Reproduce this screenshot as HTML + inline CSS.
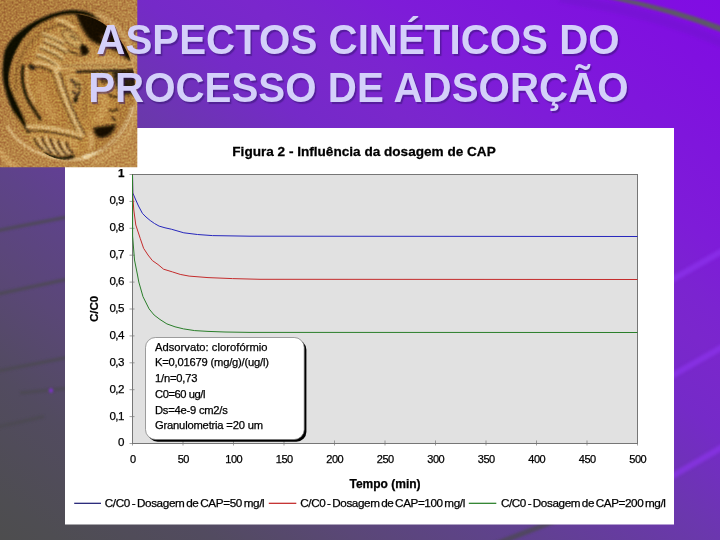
<!DOCTYPE html>
<html lang="pt">
<head>
<meta charset="utf-8">
<title>ASPECTOS CINÉTICOS DO PROCESSO DE ADSORÇÃO</title>
<style>
html,body{margin:0;padding:0;}
body{width:720px;height:540px;overflow:hidden;position:relative;font-family:"Liberation Sans",sans-serif;background:#6a38b0;}
#bg{position:absolute;left:0;top:0;width:720px;height:540px;
background:linear-gradient(to top right,
 rgb(77,77,78) 0%, rgb(78,77,82) 4%, rgb(82,75,96) 15%, rgb(90,71,119) 25%, rgb(94,67,137) 34%,
 rgb(107,55,174) 50%, rgb(117,42,200) 60%, rgb(122,39,204) 67%, rgb(123,36,208) 71%,
 rgb(126,28,216) 77%, rgb(128,16,224) 93%, rgb(129,12,228) 100%);}
#streaks,#chart,#coin{position:absolute;left:0;top:0;}
#title{position:absolute;left:0.8px;top:16.1px;width:714px;text-align:center;font-weight:bold;font-size:41.6px;line-height:48px;transform:scaleX(0.969);transform-origin:357px 0;
 color:#d4d0fa;text-shadow:1.5px 1.5px 1px rgba(50,20,110,.5);white-space:nowrap;margin:0;}
#chart text{font-family:"Liberation Sans",sans-serif;fill:#000;stroke:#000;stroke-width:0.25px;}
</style>
</head>
<body>
<div id="bg"></div>
<svg id="streaks" width="720" height="540" viewBox="0 0 720 540">
<defs>
 <filter id="sb1" x="-20%" y="-50%" width="140%" height="200%"><feGaussianBlur stdDeviation="0.9"/></filter>
 <filter id="sb2" x="-20%" y="-50%" width="140%" height="200%"><feGaussianBlur stdDeviation="1.6"/></filter>
</defs>
<path d="M608,-3.500 Q670,7 724,28 L724,32 Q670,10.500 608,-2.500 Z" fill="#5d5a66" stroke="#5d5a66" stroke-width="2" filter="url(#sb1)"/>
<path d="M560,-2 Q660,14 724,44" fill="none" stroke="#6a12c4" stroke-width="9" opacity="0.35" filter="url(#sb2)"/>
<g stroke="#9036f2" stroke-width="6" opacity="0.6" filter="url(#sb2)">
 <path d="M640,298 L724,250"/>
 <path d="M640,394 L724,346"/>
 <path d="M640,495 L724,446"/>
</g>
<g stroke="#4b4951" stroke-width="3.500" opacity="0.75" filter="url(#sb1)">
 <path d="M-2,230.500 L80,214.500"/>
 <path d="M-2,294 L80,276.500"/>
 <path d="M-2,371 L80,355"/>
 <path d="M20,393 L80,387"/>
 <path d="M-2,427 L44,416.500"/>
 <path d="M490,546 L560,519" stroke-width="5"/>
</g>
<circle cx="51" cy="390.500" r="2.200" fill="#7a30c8" filter="url(#sb1)"/>

</svg>
<svg id="chart" width="720" height="540" viewBox="0 0 720 540">
<rect x="65" y="128" width="609" height="396.5" fill="#ffffff"/>
<rect x="132.5" y="174.5" width="505.0" height="269.0" fill="#e1e1e1" stroke="#767676" stroke-width="1"/>
<line x1="129.5" y1="443.5" x2="134.5" y2="443.5" stroke="#777" stroke-width="0.7"/>
<line x1="129.5" y1="416.6" x2="134.5" y2="416.6" stroke="#777" stroke-width="0.7"/>
<line x1="129.5" y1="389.7" x2="134.5" y2="389.7" stroke="#777" stroke-width="0.7"/>
<line x1="129.5" y1="362.8" x2="134.5" y2="362.8" stroke="#777" stroke-width="0.7"/>
<line x1="129.5" y1="335.9" x2="134.5" y2="335.9" stroke="#777" stroke-width="0.7"/>
<line x1="129.5" y1="309.0" x2="134.5" y2="309.0" stroke="#777" stroke-width="0.7"/>
<line x1="129.5" y1="282.1" x2="134.5" y2="282.1" stroke="#777" stroke-width="0.7"/>
<line x1="129.5" y1="255.2" x2="134.5" y2="255.2" stroke="#777" stroke-width="0.7"/>
<line x1="129.5" y1="228.3" x2="134.5" y2="228.3" stroke="#777" stroke-width="0.7"/>
<line x1="129.5" y1="201.4" x2="134.5" y2="201.4" stroke="#777" stroke-width="0.7"/>
<line x1="129.5" y1="174.5" x2="134.5" y2="174.5" stroke="#777" stroke-width="0.7"/>
<line x1="132.5" y1="440.5" x2="132.5" y2="445.5" stroke="#777" stroke-width="0.7"/>
<line x1="183.0" y1="440.5" x2="183.0" y2="445.5" stroke="#777" stroke-width="0.7"/>
<line x1="233.5" y1="440.5" x2="233.5" y2="445.5" stroke="#777" stroke-width="0.7"/>
<line x1="284.0" y1="440.5" x2="284.0" y2="445.5" stroke="#777" stroke-width="0.7"/>
<line x1="334.5" y1="440.5" x2="334.5" y2="445.5" stroke="#777" stroke-width="0.7"/>
<line x1="385.0" y1="440.5" x2="385.0" y2="445.5" stroke="#777" stroke-width="0.7"/>
<line x1="435.5" y1="440.5" x2="435.5" y2="445.5" stroke="#777" stroke-width="0.7"/>
<line x1="486.0" y1="440.5" x2="486.0" y2="445.5" stroke="#777" stroke-width="0.7"/>
<line x1="536.5" y1="440.5" x2="536.5" y2="445.5" stroke="#777" stroke-width="0.7"/>
<line x1="587.0" y1="440.5" x2="587.0" y2="445.5" stroke="#777" stroke-width="0.7"/>
<line x1="637.5" y1="440.5" x2="637.5" y2="445.5" stroke="#777" stroke-width="0.7"/>
<polyline points="132.5,174.5 132.8,193.0 135.8,200.0 138.5,206.0 142.4,213.3 146.0,217.0 150.2,220.5 154.5,223.5 159.1,226.1 165.0,227.8 171.3,229.2 183.8,232.8 197.5,234.5 212.5,235.6 250.0,236.2 637.5,236.5" fill="none" stroke="#2626bc" stroke-width="1" stroke-linejoin="round"/>
<polyline points="132.5,174.5 132.7,195.0 133.8,210.0 135.8,225.0 140.2,238.3 143.6,248.3 148.0,255.0 152.4,260.6 158.0,264.5 163.6,269.2 172.4,271.9 180.2,274.4 189.1,276.1 208.0,277.6 232.5,278.6 260.0,279.3 637.5,279.5" fill="none" stroke="#c42c2c" stroke-width="1" stroke-linejoin="round"/>
<polyline points="132.5,174.5 132.6,236.0 134.5,260.0 137.5,275.0 138.8,282.0 143.0,296.7 149.1,308.9 154.1,315.0 160.0,319.5 166.9,323.9 175.0,326.8 183.6,328.9 194.7,330.6 208.0,331.4 225.0,332.0 250.0,332.4 637.5,332.5" fill="none" stroke="#2a7e2a" stroke-width="1" stroke-linejoin="round"/>
<text transform="translate(364,155.8) scale(1.105,1)" text-anchor="middle" font-size="12.3" font-weight="bold">Figura 2 - Influência da dosagem de CAP</text>
<text x="124" y="446.4" text-anchor="end" font-size="11.6" letter-spacing="-0.5">0</text>
<text x="124" y="419.5" text-anchor="end" font-size="11.6" letter-spacing="-0.5">0,1</text>
<text x="124" y="392.6" text-anchor="end" font-size="11.6" letter-spacing="-0.5">0,2</text>
<text x="124" y="365.7" text-anchor="end" font-size="11.6" letter-spacing="-0.5">0,3</text>
<text x="124" y="338.8" text-anchor="end" font-size="11.6" letter-spacing="-0.5">0,4</text>
<text x="124" y="311.9" text-anchor="end" font-size="11.6" letter-spacing="-0.5">0,5</text>
<text x="124" y="285.0" text-anchor="end" font-size="11.6" letter-spacing="-0.5">0,6</text>
<text x="124" y="258.1" text-anchor="end" font-size="11.6" letter-spacing="-0.5">0,7</text>
<text x="124" y="231.2" text-anchor="end" font-size="11.6" letter-spacing="-0.5">0,8</text>
<text x="124" y="204.3" text-anchor="end" font-size="11.6" letter-spacing="-0.5">0,9</text>
<text x="124" y="177.4" text-anchor="end" font-size="11.6" letter-spacing="-0.5" font-weight="bold">1</text>
<text x="132.8" y="463" text-anchor="middle" font-size="11" letter-spacing="-0.5">0</text>
<text x="183.3" y="463" text-anchor="middle" font-size="11" letter-spacing="-0.5">50</text>
<text x="233.8" y="463" text-anchor="middle" font-size="11" letter-spacing="-0.5">100</text>
<text x="284.3" y="463" text-anchor="middle" font-size="11" letter-spacing="-0.5">150</text>
<text x="334.8" y="463" text-anchor="middle" font-size="11" letter-spacing="-0.5">200</text>
<text x="385.3" y="463" text-anchor="middle" font-size="11" letter-spacing="-0.5">250</text>
<text x="435.8" y="463" text-anchor="middle" font-size="11" letter-spacing="-0.5">300</text>
<text x="486.3" y="463" text-anchor="middle" font-size="11" letter-spacing="-0.5">350</text>
<text x="536.8" y="463" text-anchor="middle" font-size="11" letter-spacing="-0.5">400</text>
<text x="587.3" y="463" text-anchor="middle" font-size="11" letter-spacing="-0.5">450</text>
<text x="637.8" y="463" text-anchor="middle" font-size="11" letter-spacing="-0.5">500</text>
<text x="385" y="488" text-anchor="middle" font-size="12" font-weight="bold">Tempo (min)</text>
<text transform="translate(98,309) rotate(-90)" text-anchor="middle" font-size="11.5" font-weight="bold">C/C0</text>
<rect x="147.7" y="339.7" width="158.7" height="102" rx="10" ry="10" fill="#000"/>
<rect x="145.5" y="337.5" width="158.7" height="102" rx="10" ry="10" fill="#fff" stroke="#777" stroke-width="0.7"/>
<text x="155" y="350.6" font-size="11.2" textLength="112.5" lengthAdjust="spacing">Adsorvato: clorofórmio</text>
<text x="155" y="366.4" font-size="11.2" textLength="114" lengthAdjust="spacing">K=0,01679 (mg/g)/(ug/l)</text>
<text x="155" y="382.1" font-size="11.2" textLength="42.5" lengthAdjust="spacing">1/n=0,73</text>
<text x="155" y="397.9" font-size="11.2" textLength="50.5" lengthAdjust="spacing">C0=60 ug/l</text>
<text x="155" y="413.6" font-size="11.2" textLength="72.8" lengthAdjust="spacing">Ds=4e-9 cm2/s</text>
<text x="155" y="429.4" font-size="11.2" textLength="108" lengthAdjust="spacing">Granulometria =20 um</text>
<line x1="74.2" y1="503.3" x2="101" y2="503.3" stroke="#16166e" stroke-width="1.2"/>
<text x="104.7" y="507" font-size="11.7" word-spacing="-1.2" textLength="160" lengthAdjust="spacing">C/C0 - Dosagem de CAP=50 mg/l</text>
<line x1="268.8" y1="503.3" x2="296.3" y2="503.3" stroke="#c02020" stroke-width="1.2"/>
<text x="300.3" y="507" font-size="11.7" word-spacing="-1.2" textLength="165" lengthAdjust="spacing">C/C0 - Dosagem de CAP=100 mg/l</text>
<line x1="468.8" y1="503.3" x2="496.3" y2="503.3" stroke="#207a20" stroke-width="1.2"/>
<text x="500.9" y="507" font-size="11.7" word-spacing="-1.2" textLength="165" lengthAdjust="spacing">C/C0 - Dosagem de CAP=200 mg/l</text>
</svg>
<svg id="coin" width="138" height="168" viewBox="0 0 138 168">
<defs>
 <filter id="grain" x="0" y="0" width="100%" height="100%" color-interpolation-filters="sRGB">
  <feTurbulence type="fractalNoise" baseFrequency="0.5" numOctaves="3" seed="11" result="n"/>
  <feColorMatrix in="n" type="matrix" values="1.1 0 0 0 -0.05  1.1 0 0 0 -0.05  1.1 0 0 0 -0.05  0 0 0 0 1"/>
 </filter>
 <filter id="b1" filterUnits="userSpaceOnUse" x="-10" y="-10" width="160" height="190"><feGaussianBlur stdDeviation="0.85"/></filter>
 <filter id="b2" filterUnits="userSpaceOnUse" x="-10" y="-10" width="160" height="190"><feGaussianBlur stdDeviation="1.4"/></filter>
 <filter id="b3" filterUnits="userSpaceOnUse" x="-10" y="-10" width="160" height="190"><feGaussianBlur stdDeviation="2.5"/></filter>
 <linearGradient id="bgG" x1="0" y1="0" x2="1" y2="1">
  <stop offset="0" stop-color="#ab773a"/><stop offset="0.5" stop-color="#b68446"/><stop offset="1" stop-color="#bd8c4c"/>
 </linearGradient>
 <linearGradient id="rimG" gradientUnits="userSpaceOnUse" x1="0" y1="60" x2="132" y2="126">
  <stop offset="0" stop-color="#0e0904"/><stop offset="0.36" stop-color="#160e06"/><stop offset="0.46" stop-color="#8a6030"/>
  <stop offset="0.58" stop-color="#c89c5c"/><stop offset="0.8" stop-color="#ecd094"/><stop offset="1" stop-color="#f0dca8"/>
 </linearGradient>
 <linearGradient id="inG" gradientUnits="userSpaceOnUse" x1="0" y1="60" x2="132" y2="126">
  <stop offset="0" stop-color="#0e0904"/><stop offset="0.2" stop-color="#1c1208"/><stop offset="0.34" stop-color="#a87c44"/><stop offset="1" stop-color="#c89c5c"/>
 </linearGradient>
 <linearGradient id="fieldG" x1="0" y1="0" x2="1" y2="1">
  <stop offset="0" stop-color="#ad7a38"/><stop offset="0.6" stop-color="#b5843f"/><stop offset="1" stop-color="#bd8c46"/>
 </linearGradient>
 <clipPath id="inClip"><ellipse cx="72.5" cy="87.5" rx="62.5" ry="73.5"/></clipPath>
 <clipPath id="coinClip"><rect x="0" y="0" width="137.3" height="167.3"/></clipPath>
</defs>
<g clip-path="url(#coinClip)">
 <rect x="0" y="0" width="138" height="168" fill="url(#bgG)"/>
 <!-- outer crescent + rim -->
 <g filter="url(#b1)">
  <ellipse cx="72.500" cy="87.500" rx="63" ry="74" fill="url(#fieldG)"/>
  <path d="M96,13.500 C108,18 120,28 128,42 C131,48 134,55 135.500,62" fill="none" stroke="#d9b474" stroke-width="3.500" opacity="0.6"/>
  <path d="M84,5.500 C100,7 116,15 128,30 C132,36 135,42 137,48" fill="none" stroke="#8a5e2a" stroke-width="1.200" opacity="0.6"/>
  <path d="M102,21.500 C97,17 92,13.500 86,11.500 C80,10.300 75,10 70,10 C60,11 52,13.500 44,17 C36,20 29,24.500 25,27.500 C19,32 15,35.500 12.500,38.300 C9,42.500 6.500,46.500 5,50 C3.500,55 2.800,62 2.600,70 C2.500,78 3.500,84 4.800,88 C5.800,92 7,96.500 8.300,100 C9.500,103.500 11,107 12.500,110 C14.500,114 17,117.500 19,120 C21,123 23,126 25,129 C27,132 29,134.500 31,136.500 L31.500,134.500 C29,130 27,126 25.500,122 C24.500,119 23.500,116 22,113 C20.500,110 19.500,108 18.500,105.500 C16.500,101.500 14.500,97.500 13.200,94 C11.500,90 10,87 9.500,83 C8.800,77 9,71 11,65 C12.500,59 14.500,54 17,49.500 C19,45.500 21,42 23,39 C26,35.500 29.500,32 33,29 C37,26 41,23.500 45.500,21.500 C50,19.500 52,18.500 53.500,18 C59,16 64,14.800 70,14.500 C76,14.500 81,15 86,16 C92,17.500 97,19.500 102,21.500 Z" fill="#100a04"/>
  <path d="M74,22.500 C62,23 50,27 40,34 C30,41.500 22,52 18,64 C15.500,72 15,82 16.500,92" fill="none" stroke="#6e4a22" stroke-width="1.300" opacity="0.8"/>
  <path d="M7.800,125.800 C10,131 13,135.500 17.500,139.400 C24,145.500 31,150 38.900,153 C48,157 58,159.500 68,159.800 C76,160 84,159 91.400,157" fill="none" stroke="#e6c88e" stroke-width="2"/>
  <path d="M84,159 C90,157.800 98,154.500 104,151 C109,147.500 115,142 120.500,136 C124.500,130 128,124 131,117 L133.500,108" fill="none" stroke="#f6e4b4" stroke-width="2.600" transform="translate(-1.2,-1.8)"/>
  <path d="M92,163 C102,160 112,154 120,146 C127,138 132,128 135,118 C137,108 137,96 136,84 C135,74 133,66 130,58" fill="none" stroke="#d6ac68" stroke-width="4" opacity="0.55"/>
  <path d="M-1,150 C4,158 10,164 18,169" fill="none" stroke="#d8ae68" stroke-width="6" opacity="0.6"/>
 </g>
 <!-- HEAD -->
 <g id="head" clip-path="url(#inClip)">
 <!-- dark blob upper right between crest and rim -->
 <path d="M74,8 L140,8 L140,62 L128,60 C124,56 120,53 116,51 C110,48 104,46 98,44 C93,42 90,40 87,36 C83,30 78,22 74,8 Z" fill="#120c05" filter="url(#b2)"/>
 <path d="M100,34 C106,36 112,40 116,48 L108,46 C104,44 100,40 100,34 Z" fill="#5a3818" opacity="0.7" filter="url(#b2)"/>
 <!-- helmet dome -->
 <path d="M62,31 C45,34 28,50 23,70 C22,86 28,104 39,119 L66,131 C70,110 66,88 58,70 L86,62 C80,48 72,38 62,31 Z" fill="#b6823e" filter="url(#b1)"/>
 <!-- dome inner soft highlight -->
 <path d="M40,84 C42,98 48,110 56,120" fill="none" stroke="#cc9c56" stroke-width="9" opacity="0.55" filter="url(#b3)"/>
 <!-- helmet back shadow (D4) -->
 <path d="M23,66 C21,80 24,94 31,105 C34,110 37,114 40,119" fill="none" stroke="#170f06" stroke-width="2.800" stroke-linecap="round" filter="url(#b1)"/>
 <path d="M27,68 C26,82 29,94 35,104" fill="none" stroke="#dcb878" stroke-width="2" opacity="0.8" filter="url(#b1)"/>
 <!-- crest (ornate) : light mass with subtle relief -->
 <path d="M33,56 C38,40 52,28 66,24 C72,23 77,26 80,30 C84,36 88,42 92,46 C96,50 100,52 104,54 L86,62 L58,70 C48,68 40,64 33,56 Z" fill="#bd8c46" filter="url(#b1)"/>
 <g filter="url(#b1)" fill="none" stroke-linecap="round">
  <path d="M43,35.500 C50,37 57,40 63,44 M44,42 C51,44.500 59,48 66,53 M40.500,48.500 C47,50.500 55,54 62,59.500 M37,56 C44,58 52,62 59,68" stroke="#72501f" stroke-width="2.200"/>
  <path d="M43,33.500 C50,35 57,38 63.500,42 M44.500,40 C52,42.500 60,46 67,51 M41,46.500 C48,48.500 56,52 63,57.500 M37.500,54 C45,56 53,60 60,66" stroke="#e0bd7c" stroke-width="2.400"/>
  <path d="M57,20 C63,20.500 69,23 74,28" stroke="#dcb672" stroke-width="3.500"/>
  <path d="M58,24.500 C63,25 68,27.500 72,31.500" stroke="#6a4820" stroke-width="1.400"/>
  <path d="M62,31 C68,29 75,32 79,38 C82,42 83,46 81,49 C77,48 71,46 67,42 C64,38 62,35 62,31 Z" fill="#caa05a" stroke="#6a4820" stroke-width="1.200"/>
  <path d="M70,36 C73,36 75,38 76,40" stroke="#3a2610" stroke-width="1.400"/>
  <path d="M68,50 C72,53 78,55 84,55" stroke="#5a3c1a" stroke-width="1.800"/>
 </g>
 <!-- beak shadow D3 -->
 <path d="M80,46 C84,43 88,46 89,52 C87,56 83,56 81,53 Z" fill="#140d05" filter="url(#b1)"/>
 <!-- D5 -->
 <path d="M28,65 C31,63 34,65 36,69 C33,71 30,70 28,65 Z" fill="#1c1208" filter="url(#b1)"/>
 <!-- face -->
 <path d="M112,72 C113,80 115,88 118,95 C116,99 113,100 113,103 C115,106 117,109 116,112 C118,116 118,120 115,123 C110,127 102,128 96,128 C95,136 93,144 90,152 L140,152 L140,72 Z" fill="#a97636" opacity="0.55" filter="url(#b2)"/>
 <path d="M74,72 L112,72 C113,80 115,88 118,95 C116,99 113,100 113,103 C115,106 117,109 116,112 C118,116 118,120 115,123 C110,127 102,128 96,128 C95,136 93,144 90,152 L66,150 C72,140 76,128 74,110 Z" fill="#bb883f" filter="url(#b1)"/>
 <path d="M90,88 C96,86 101,90 104,98 C106,106 103,115 96,121" fill="none" stroke="#d4a862" stroke-width="7" opacity="0.5" filter="url(#b2)"/>
 <path d="M84,78 C86,90 86,104 84,118" fill="none" stroke="#9a6c30" stroke-width="5" opacity="0.5" filter="url(#b2)"/>
 <path d="M100,78 C104,77 108,78 111,81 C108,84 103,84 100,82 Z" fill="#4a3014" opacity="0.8" filter="url(#b1)"/>
 <path d="M90,132 C92,138 92,144 90,150" fill="none" stroke="#e0bc80" stroke-width="5" opacity="0.5" filter="url(#b2)"/>
 <!-- dark in front of face under visor (D6,D7) -->
 <path d="M112,71 L137,69 L137,94 L121,95 C117,89 114,81 112,71 Z" fill="#1e1308" opacity="0.9" filter="url(#b2)"/>
 <!-- nose/mouth shadows -->
 <path d="M109,94.500 C112,97 116,97.500 118.500,96 M109,110 C112,111.500 116,110.500 118,109 M112,117 C113,119 115,120 116,120" fill="none" stroke="#2a1808" stroke-width="1.800" filter="url(#b1)"/>
 <!-- chin shadow D9 -->
 <path d="M93,128 C100,126 108,126 116,124 C115,132 108,138 100,138 C96,137 94,133 93,128 Z" fill="#120b04" filter="url(#b2)"/>
 <!-- visor -->
 <path d="M58,66 L86,61 L107,54.500 L136,64 L137,70 L60,72 Z" fill="#c89a54" filter="url(#b1)"/>
 <path d="M62,66 L134,65" fill="none" stroke="#8a6434" stroke-width="1" filter="url(#b1)"/>
 <path d="M76,71.800 L137,70.300" fill="none" stroke="#1c1208" stroke-width="2.400" filter="url(#b1)"/>
 <!-- visor hinge knob -->
 <circle cx="57" cy="69" r="4" fill="#dcb878" filter="url(#b1)"/>
 <path d="M34,63 C40,62 48,64 54,68" fill="none" stroke="#d9b474" stroke-width="3.500" filter="url(#b1)"/>
 <path d="M35,67 C40,66 48,69 53,73" fill="none" stroke="#3a2610" stroke-width="1.400" filter="url(#b1)"/>
 <!-- cheek guard -->
 <path d="M56,72 C62,90 70,112 82,136" fill="none" stroke="#dab676" stroke-width="5" filter="url(#b1)"/>
 <path d="M59.500,72 C65,90 73,112 85,135" fill="none" stroke="#4a3014" stroke-width="1.300" filter="url(#b1)"/>
 <path d="M53,74 C58,92 66,112 78,134" fill="none" stroke="#6a4820" stroke-width="1.100" filter="url(#b1)"/>
 <!-- hair curls near ear -->
 <path d="M66,74 C72,72 80,76 82,84 C84,92 80,100 74,104 C70,98 66,88 66,74 Z" fill="#c89c56" filter="url(#b1)"/>
 <path d="M70,80 C74,80 76,84 75,88 M72,92 C76,92 78,96 76,100 M78,82 C80,86 80,92 78,96" fill="none" stroke="#2a1a0a" stroke-width="1.800" filter="url(#b1)"/>
 <ellipse cx="75.500" cy="100" rx="1.800" ry="3" fill="#120b04" filter="url(#b1)"/>
 <!-- neck guard -->
 <path d="M26,127 C44,126 64,130 83,136" fill="none" stroke="#d8b474" stroke-width="4" filter="url(#b1)"/>
 <path d="M27,131 C44,130.500 64,134 82,139.500" fill="none" stroke="#3a2610" stroke-width="1.600" filter="url(#b1)"/>
 <!-- hair curls bottom -->
 <path d="M28,133 C40,132 60,134 78,140 C78,148 74,156 68,158 C54,160 38,154 30,144 Z" fill="#c4944e" filter="url(#b1)"/>
 <path d="M34,138 C36,144 40,148 44,150 M42,137 C44,144 48,150 52,153 M50,138 C52,146 56,152 60,155 M58,140 C60,148 64,153 68,155 M66,142 C68,148 70,152 73,153" fill="none" stroke="#2e1c0c" stroke-width="1.700" filter="url(#b1)"/>
 <path d="M38,137 C40,143 44,148 48,151 M46,137 C48,145 52,151 56,154 M54,139 C56,147 60,153 64,155 M62,141 C64,148 67,152 70,154" fill="none" stroke="#ecd4a0" stroke-width="1.300" filter="url(#b1)"/>
 <path d="M44,153 C52,158 64,160 74,156" fill="none" stroke="#140d05" stroke-width="3" filter="url(#b1)"/>
</g>
 <rect x="0" y="0" width="138" height="168" filter="url(#grain)" style="mix-blend-mode:overlay" opacity="0.38"/>
</g>

</svg>
<h1 id="title">ASPECTOS CINÉTICOS DO<br><span style="position:relative;left:0.4px">PROCESSO DE ADSORÇÃO</span></h1>
</body>
</html>
